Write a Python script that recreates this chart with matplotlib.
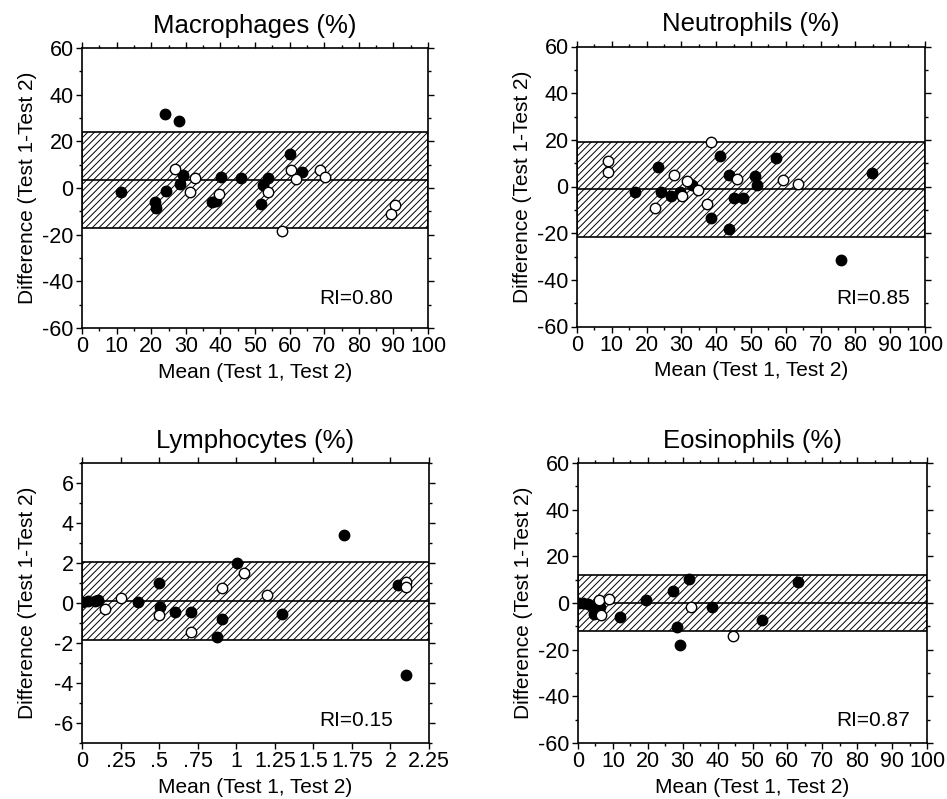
import matplotlib
matplotlib.use("Agg")
from matplotlib import pyplot as plt
from matplotlib.ticker import MultipleLocator

plt.rcParams['font.family'] = ['Liberation Sans', 'DejaVu Sans']
plt.rcParams['axes.unicode_minus'] = False
plt.rcParams['hatch.linewidth'] = 0.7

## Data
# Macrophages
mac_filled_x = [24.0, 27.9, 11.3, 24.3, 21.1, 21.3, 28.3, 29.3, 40.2, 45.9, 37.7, 38.6, 51.7, 52.4, 53.7, 60.0, 63.7]
mac_filled_y = [31.7, 28.9, -1.9, -1.3, -5.9, -8.7, 1.7, 5.4, 4.9, 4.4, -6.1, -5.7, -7.0, 1.1, 4.4, 14.7, 6.7]
mac_open_x = [26.9, 32.8, 31.1, 39.6, 53.9, 57.9, 60.4, 61.9, 68.7, 70.3, 90.6, 89.4]
mac_open_y = [8.2, 4.3, -1.8, -2.4, -1.7, -18.6, 7.6, 3.7, 7.7, 4.9, -7.4, -11.3]
mac_band = [-17.0, 3.5, 24.0]   # lower limit, mean, upper limit

# Neutrophils
neu_filled_x = [16.7, 23.2, 24.1, 27.0, 29.6, 33.1, 38.5, 41.1, 43.7, 45.1, 43.7, 47.7, 51.1, 51.6, 57.1, 75.9, 84.9]
neu_filled_y = [-2.3, 8.5, -2.2, -3.9, -2.4, 0.6, -13.3, 12.9, 5.1, -4.8, -18.4, -4.8, 4.7, 0.8, 12.3, -31.6, 5.9]
neu_open_x = [8.9, 8.9, 22.4, 28.0, 30.2, 31.5, 34.7, 37.3, 38.6, 46.0, 59.2, 63.5]
neu_open_y = [11.0, 6.3, -9.4, 5.0, -4.1, 2.5, -1.5, -7.3, 19.0, 3.1, 2.6, 1.1]
neu_band = [-21.5, -1.0, 19.1]

# Lymphocytes
lym_filled_x = [0.0, 0.04, 0.085, 0.105, 0.36, 0.5, 0.505, 0.6, 0.705, 0.877, 0.907, 1.006, 1.3, 1.7, 2.05, 2.1]
lym_filled_y = [0.05, 0.1, 0.12, 0.15, 0.07, 1.0, -0.2, -0.43, -0.43, -1.72, -0.8, 2.0, -0.57, 3.4, 0.88, -3.62]
lym_open_x = [0.15, 0.25, 0.5, 0.705, 0.907, 1.05, 1.2, 2.1, 2.1]
lym_open_y = [-0.32, 0.25, -0.62, -1.43, 0.77, 1.48, 0.4, 1.05, 0.78]
lym_band = [-1.85, 0.1, 2.05]

# Eosinophils
eos_filled_x = [0.3, 1.5, 2.8, 4.0, 4.6, 6.2, 12.1, 19.4, 27.3, 28.4, 29.3, 31.8, 38.3, 52.8, 62.9]
eos_filled_y = [0.2, 0.0, -0.5, -1.3, -4.6, -1.8, -6.2, 1.5, 5.0, -10.3, -18.1, 10.1, -1.7, -7.4, 8.9]
eos_open_x = [5.9, 9.0, 6.6, 32.3, 44.5]
eos_open_y = [1.1, 1.8, -5.1, -1.9, -14.1]
eos_band = [-12.1, -0.1, 11.9]

titles = ["Macrophages (%)", "Neutrophils (%)", "Lymphocytes (%)", "Eosinophils (%)"]
ri_labels = ["RI=0.80", "RI=0.85", "RI=0.15", "RI=0.87"]

pct_ticks = [0, 10, 20, 30, 40, 50, 60, 70, 80, 90, 100]
diff_ticks = [-60, -40, -20, 0, 20, 40, 60]
lym_xticks = [0, 0.25, 0.5, 0.75, 1, 1.25, 1.5, 1.75, 2, 2.25]
lym_xlabels = ["0", ".25", ".5", ".75", "1", "1.25", "1.5", "1.75", "2", "2.25"]
lym_yticks = [-6, -4, -2, 0, 2, 4, 6]

fig = plt.figure(figsize=(9.47, 7.99), dpi=100)
W, H = 947.0, 799.0
# axes boxes in pixels: left, right, top, bottom
boxes = [(82, 428, 48, 328), (577, 925, 46.5, 326.5), (82, 429, 463, 743), (578, 927, 463, 743)]
axes = []
for (l, r, t, b) in boxes:
    axes.append(fig.add_axes([l / W, (H - b) / H, (r - l) / W, (b - t) / H]))

panels = [
    (mac_filled_x, mac_filled_y, mac_open_x, mac_open_y, mac_band),
    (neu_filled_x, neu_filled_y, neu_open_x, neu_open_y, neu_band),
    (lym_filled_x, lym_filled_y, lym_open_x, lym_open_y, lym_band),
    (eos_filled_x, eos_filled_y, eos_open_x, eos_open_y, eos_band),
]
ri_pos = [(0.899, 0.104), (0.957, 0.10), (0.896, 0.08), (0.951, 0.08)]

for i, ax in enumerate(axes):
    fx, fy, ox, oy, band = panels[i]
    ax.axhspan(band[0], band[2], facecolor='white', edgecolor='black',
               hatch='/////', linewidth=1.2, zorder=1)
    ax.axhline(band[1], color='black', lw=1.2, zorder=2)
    ax.plot(fx, fy, 'o', ms=7.5, mfc='black', mec='black', mew=1, zorder=3)
    ax.plot(ox, oy, 'o', ms=7.5, mfc='white', mec='black', mew=1, zorder=4)

    if i == 2:
        ax.set_xlim(0, 2.25)
        ax.set_ylim(-7, 7)
        ax.set_xticks(lym_xticks)
        ax.set_xticklabels(lym_xlabels)
        ax.set_yticks(lym_yticks)
        ax.yaxis.set_minor_locator(MultipleLocator(1))
    else:
        ax.set_xlim(0, 100)
        ax.set_ylim(-60, 60)
        ax.set_xticks(pct_ticks)
        ax.set_yticks(diff_ticks)
        ax.xaxis.set_minor_locator(MultipleLocator(5))
        ax.yaxis.set_minor_locator(MultipleLocator(10))

    ax.tick_params(which='both', direction='out', top=True, right=True,
                   labelsize=15.5, width=1, pad=2)
    ax.tick_params(which='major', length=4)
    ax.tick_params(which='minor', length=2.5)
    for s in ax.spines.values():
        s.set_linewidth(1.2)

    ax.set_title(titles[i], fontsize=18.5, pad=11, y=1.0)
    ax.set_xlabel("Mean (Test 1, Test 2)", fontsize=15, labelpad=4)
    ax.set_ylabel("Difference (Test 1-Test 2)", fontsize=15)
    ax.yaxis.set_label_coords(-0.13, 0.5)
    ax.text(ri_pos[i][0], ri_pos[i][1], ri_labels[i], transform=ax.transAxes,
            ha='right', va='center', fontsize=15, zorder=5)

fig.savefig("out.png", dpi=100)
